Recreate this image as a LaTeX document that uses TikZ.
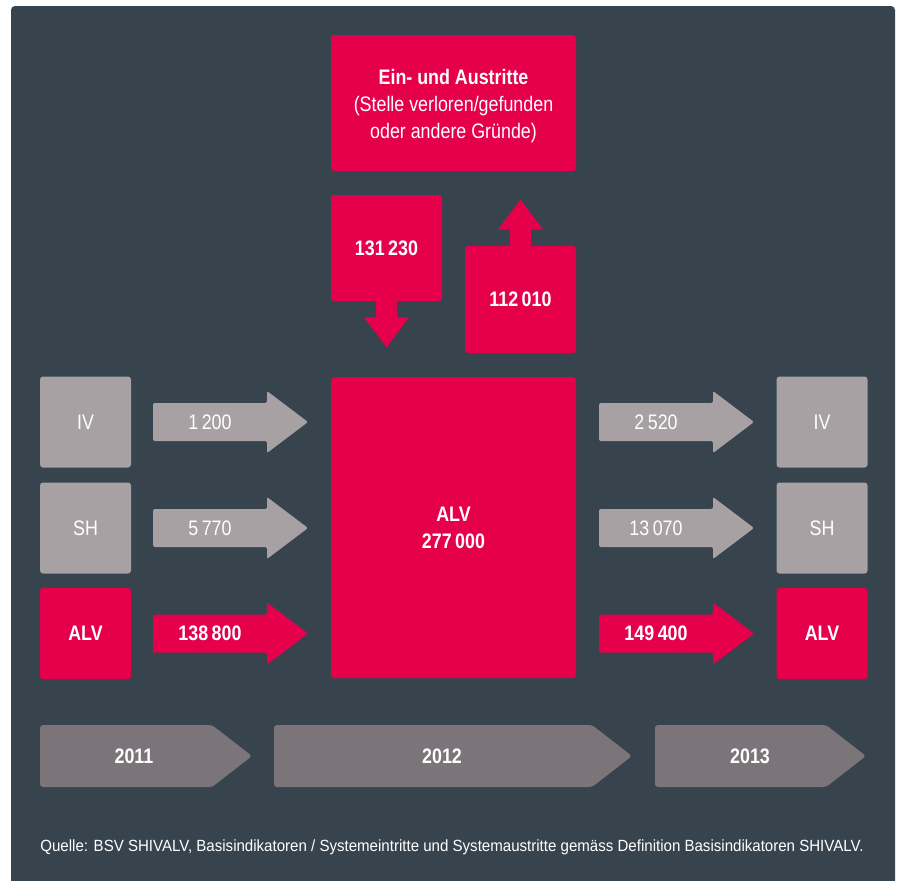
\documentclass[tikz,border=0pt]{standalone}
\usepackage{fontspec}
\setmainfont{Liberation Sans}[FakeStretch=0.85]
\newfontfamily\notefont{Liberation Sans}[FakeStretch=0.93]
\usepackage{tikz}
\usetikzlibrary{positioning}
\definecolor{panel}{HTML}{37444E}
\definecolor{alvred}{HTML}{E6004C}
\definecolor{boxgrey}{HTML}{A7A1A3}
\definecolor{yeargrey}{HTML}{7B7478}
\tikzstyle{box} = [rounded corners=1.5pt, inner sep=0pt, text=white, align=center, font=\fontsize{10.5}{13.5}\selectfont]
\tikzstyle{lbl} = [text=white, inner sep=0pt, align=center, font=\fontsize{10.5}{13.5}\selectfont]

\begin{document}
\begin{tikzpicture}[x=0.5pt,y=-0.5pt]
          % page and panel
          \useasboundingbox (0,0) rectangle (898,880);
          \fill[white] (0,0) rectangle (898,880);
          \fill[panel, rounded corners=2pt] (11,6) rectangle (895,900);

          % entries and exits
          \node[box, fill=alvred, minimum width=122.5pt, minimum height=68pt] (ein) at (453.5,103) {};
          \node[lbl, yshift=-1.5pt] (eintxt) at (ein) {\textbf{Ein- und Austritte}\\(Stelle verloren/gefunden\\oder andere Gründe)};
          \node[box, fill=alvred, minimum width=55.5pt, minimum height=53pt] (zu) at (386.5,248) {\textbf{131\,230}};
          \node[box, fill=alvred, minimum width=55.5pt, minimum height=53.5pt] (ab) at (520.5,299.5) {\textbf{112\,010}};
          \fill[alvred] ([xshift=-5.25pt,yshift=0.5pt]zu.south) -- ++(0,17) -- ++(-12,0) -- ++(22.5,30)
            -- ++(22.5,-30) -- ++(-12,0) -- ++(0,-17) -- cycle;
          \fill[alvred] ([xshift=-5.25pt,yshift=-0.5pt]ab.north) -- ++(0,-17) -- ++(-12,0) -- ++(22.5,-30)
            -- ++(22.5,30) -- ++(-12,0) -- ++(0,17) -- cycle;

          % 2012
          \node[box, fill=alvred, minimum width=122.5pt, minimum height=150.5pt] (alv) at (453.5,527.5)
            {\textbf{ALV}\\\textbf{277\,000}};

          % 2011 -> 2012 -> 2013
          \foreach \yc/\col/\fnt/\lab/\inn/\out in {422/boxgrey/\mdseries/IV/1\,200/2\,520,
              528/boxgrey/\mdseries/SH/5\,770/13\,070, 633.5/alvred/\bfseries/ALV/138\,800/149\,400} {
            \node[box, fill=\col, minimum size=45.5pt] (old\lab) at (85.5,\yc) {\fnt\lab};
            \node[box, fill=\col, minimum size=45.5pt] (new\lab) at (822,\yc) {\fnt\lab};
            \fill[\col, rounded corners=1pt] (153,\yc-19) -- (267,\yc-19) -- (267,\yc-31) -- (308,\yc)
              -- (267,\yc+31) -- (267,\yc+19) -- (153,\yc+19) -- cycle;
            \fill[\col, rounded corners=1pt] (599,\yc-19) -- (713,\yc-19) -- (713,\yc-31) -- (754,\yc)
              -- (713,\yc+31) -- (713,\yc+19) -- (599,\yc+19) -- cycle;
            \node[lbl] (in\lab) at (210,\yc) {\fnt\inn};
            \node[lbl] (out\lab) at (656,\yc) {\fnt\out};
          }

          % years
          \foreach \xa/\xb/\xc/\xt/\yr in {40/212/252/134/2011, 274/592/632/442/2012, 655/826/866/750/2013} {
            \fill[yeargrey, rounded corners=1.5pt] (\xa,725) -- (\xb,725) -- (\xc,756) -- (\xb,787) -- (\xa,787) -- cycle;
            \node[lbl] (y\yr) at (\xt,756) {\bfseries\yr};
          }

          \node[lbl, anchor=west, font=\notefont\fontsize{8.1}{9}\selectfont] (quelle) at (40,847)
            {Quelle: BSV SHIVALV, Basisindikatoren / Systemeintritte und Systemaustritte gemäss Definition Basisindikatoren SHIVALV.};
\end{tikzpicture}
\end{document}
